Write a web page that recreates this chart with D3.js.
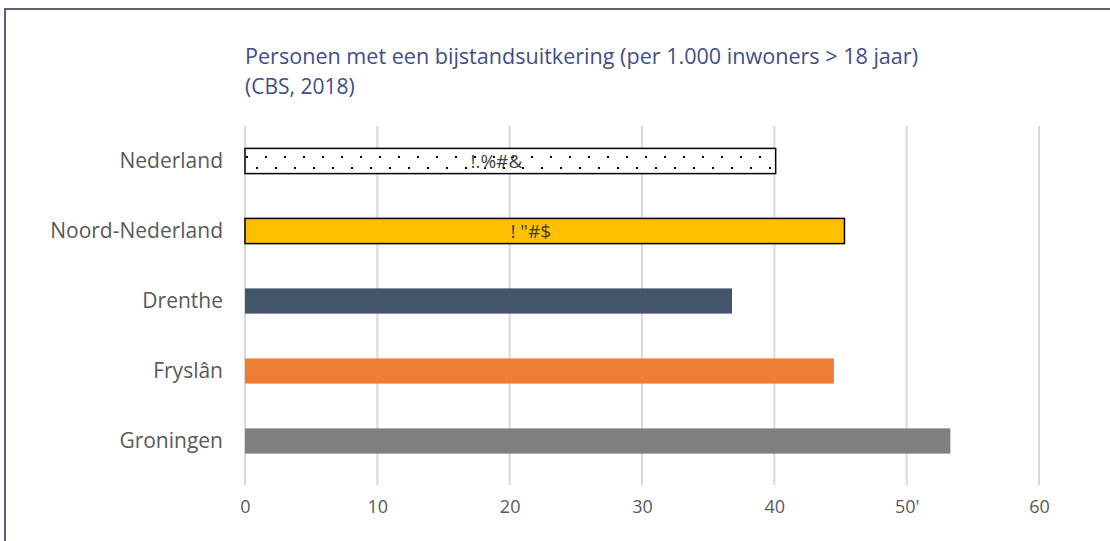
<!DOCTYPE html>
<html><head><meta charset="utf-8">
<script src="https://cdn.jsdelivr.net/npm/d3@7"></script>
<style>
html,body{margin:0;padding:0;background:#fff;}
svg{display:block;font-family:"Open Sans","Noto Sans",sans-serif;}
</style></head>
<body>
<svg id="chart" width="1110" height="541"></svg>
<script>
const categories = ["Nederland","Noord-Nederland","Drenthe","Fryslân","Groningen"];
const values = [40.1, 45.3, 36.8, 44.5, 53.3];
const colors = ["url(#dots)","#ffc000","#44546a","#ed7d31","#7f7f7f"];
const barLabels = ["!.%#&","! \"#$","","",""];
const tickValues = [0,10,20,30,40,50,60];
const tickLabels = ["0","10","20","30","40","50'","60"];
const titleLines = ["Personen met een bijstandsuitkering (per 1.000 inwoners > 18 jaar)","(CBS, 2018)"];

const svg = d3.select("#chart");
const defs = svg.append("defs");
const pat = defs.append("pattern").attr("id","dots").attr("patternUnits","userSpaceOnUse")
  .attr("width",19).attr("height",22).attr("x",245).attr("y",150);
pat.append("rect").attr("width",19).attr("height",22).attr("fill","#fff");
pat.append("rect").attr("x",1).attr("y",6).attr("width",2).attr("height",2).attr("fill","#000");
pat.append("rect").attr("x",11).attr("y",17).attr("width",2).attr("height",2).attr("fill","#000");

// frame
svg.append("path").attr("d","M5,541 V9 H1110").attr("fill","none").attr("stroke","#5b6476").attr("stroke-width",2);

const x = d3.scaleLinear().domain([0,60]).range([245,1039]);
const y = d3.scaleBand().domain(categories).range([126,476]).paddingInner(0.64).paddingOuter(0.32);

// gridlines
svg.append("g").selectAll("line").data(tickValues).join("line")
  .attr("x1",d=>x(d)).attr("x2",d=>x(d)).attr("y1",126).attr("y2",485)
  .attr("stroke","#d9d9d9").attr("stroke-width",2);

// title
svg.append("g").selectAll("text").data(titleLines).join("text")
  .attr("x",245).attr("y",(d,i)=>64+i*30).attr("fill","#3f4d8b")
  .attr("font-size",21).attr("textLength",(d,i)=>i===0?673:null)
  .attr("lengthAdjust","spacingAndGlyphs").text(d=>d);

// bars
svg.append("g").selectAll("rect").data(categories).join("rect")
  .attr("x",x(0)).attr("y",d=>y(d)).attr("height",y.bandwidth())
  .attr("width",(d,i)=>x(values[i])-x(0))
  .attr("fill",(d,i)=>colors[i])
  .attr("stroke",(d,i)=>i<2?"#000":"none").attr("stroke-width",1.5);

// bar labels
svg.append("g").selectAll("text").data(categories).join("text")
  .attr("x",(d,i)=>(x(0)+x(values[i]))/2 - 14)
  .attr("y",d=>y(d)+y.bandwidth()/2+7)
  .attr("text-anchor","middle").attr("font-size",19)
  .attr("fill","#404040").text((d,i)=>barLabels[i]);

// category labels
svg.append("g").selectAll("text").data(categories).join("text")
  .attr("x",223).attr("y",d=>y(d)+y.bandwidth()/2+7)
  .attr("text-anchor","end").attr("font-size",21).attr("fill","#595959").text(d=>d);

// x axis
const axis = d3.axisBottom(x).tickValues(tickValues).tickFormat((d,i)=>tickLabels[i]).tickSize(0).tickPadding(0);
const gx = svg.append("g").attr("transform","translate(0,500)").call(axis);
gx.select(".domain").remove();
gx.selectAll("text").attr("font-size",18).attr("fill","#595959").attr("font-family","'Open Sans','Noto Sans',sans-serif");
</script>
</body></html>
